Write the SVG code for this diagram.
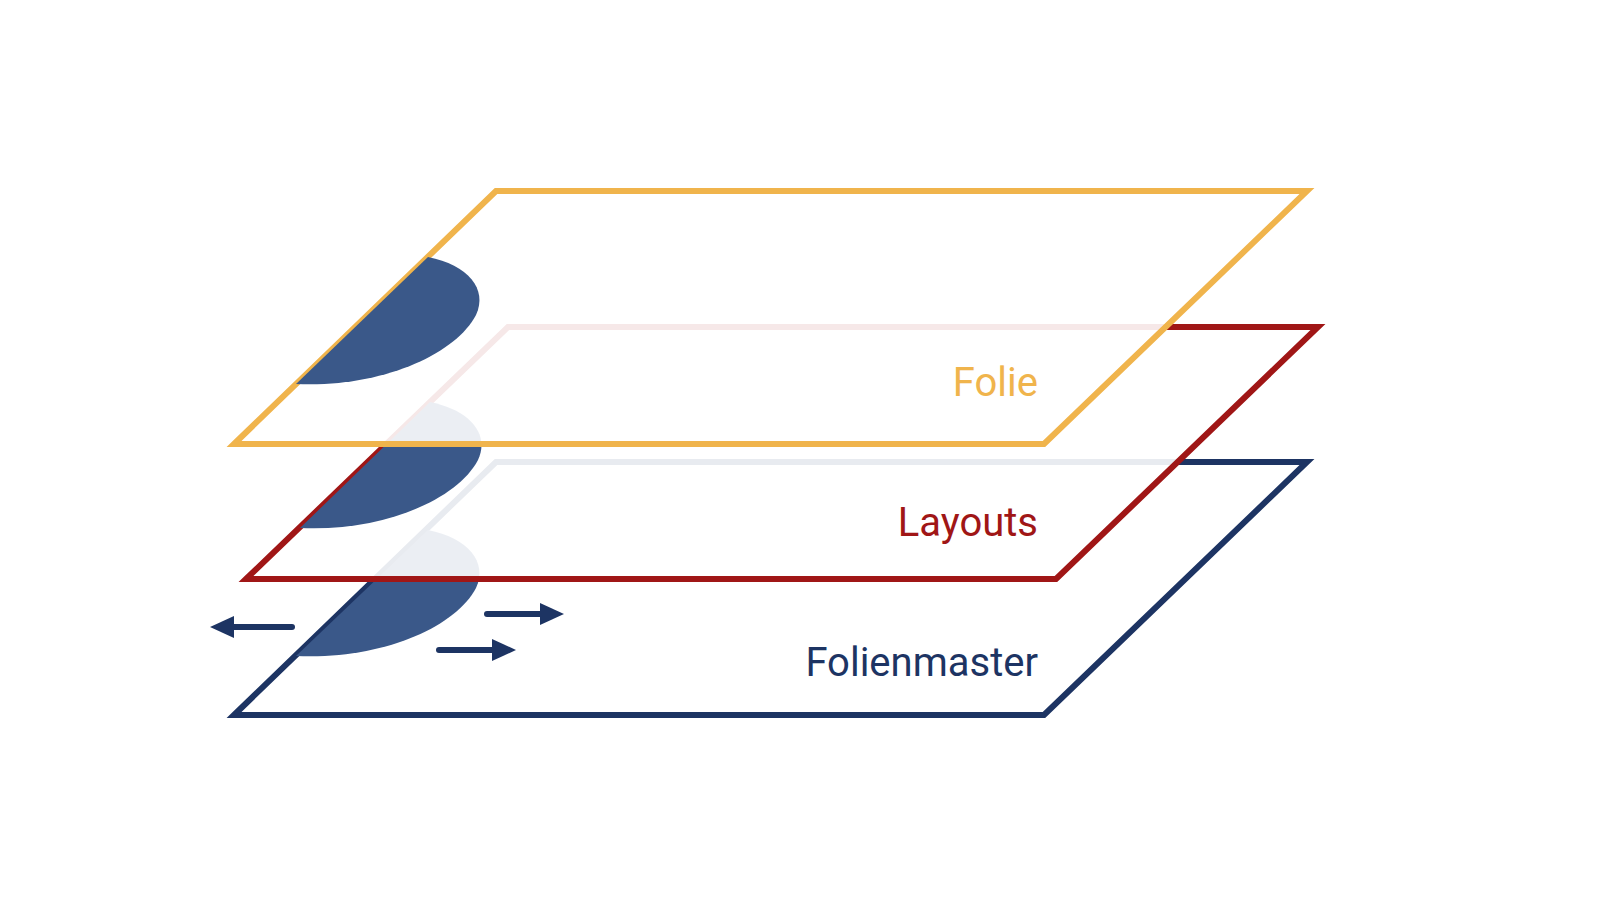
<svg xmlns="http://www.w3.org/2000/svg" width="1603" height="898" viewBox="0 0 1603 898">
<style>
.layer{fill:#fff;fill-opacity:0.9;stroke-width:6;stroke-linejoin:miter}
.blob{fill:#3a5889}
.lbl{font-family:Roboto,"Liberation Sans",sans-serif;font-size:40px;text-anchor:end}
.arr{stroke:#1d3463;stroke-width:6;stroke-linecap:round;fill:none}
</style>
<defs>
<marker id="ah" viewBox="0 0 24 24" refX="2" refY="12" markerWidth="24" markerHeight="24" markerUnits="userSpaceOnUse" orient="auto">
<path d="M0,1 L24,12 L0,23 Z" fill="#1d3463"/>
</marker>
</defs>
<rect width="1603" height="898" fill="#fff"/>
<g id="folienmaster">
<polygon class="layer" points="234,715 496,462 1307,462 1044,715" stroke="#1d3463"/>
<path class="blob" d="M428,530 C468,538 488,562 476,588 C455,628 380,660 296,656 Z"/>
<text class="lbl" x="1038" y="676" fill="#1d3463">Folienmaster</text>
</g>
<g id="connectors">
<line class="arr" x1="292" y1="627" x2="232" y2="627" marker-end="url(#ah)"/>
<line class="arr" x1="487" y1="614" x2="542" y2="614" marker-end="url(#ah)"/>
<line class="arr" x1="439" y1="650" x2="494" y2="650" marker-end="url(#ah)"/>
</g>
<g id="layouts">
<polygon class="layer" points="246,579 508,327 1318,327 1056,579" stroke="#a01616"/>
<path class="blob" d="M430,402 C470,410 490,434 478,460 C457,500 382,532 300,528 Z"/>
<text class="lbl" x="1038" y="536" fill="#a01616">Layouts</text>
</g>
<g id="folie">
<polygon class="layer" points="234,444 496,191 1307,191 1044,444" stroke="#f0b44c"/>
<path class="blob" d="M428,257 C468,265 488,289 476,315 C455,355 380,388 296,384 Z"/>
<text class="lbl" x="1038" y="396" fill="#f0b44c">Folie</text>
</g>
</svg>
